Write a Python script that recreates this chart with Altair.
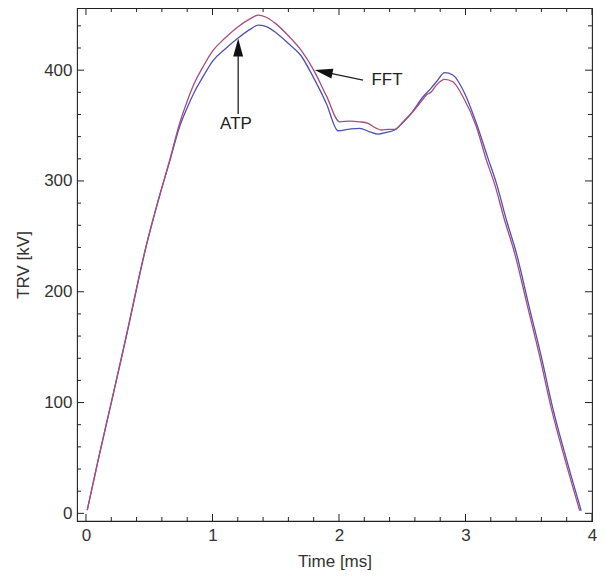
import altair as alt
import pandas as pd

# ---- data ----
t_atp = [0.01, 0.1, 0.2, 0.31, 0.48, 0.58, 0.66, 0.74, 0.8, 0.86, 0.93, 1.0, 1.1, 1.2, 1.3, 1.36,
         1.42, 1.5, 1.6, 1.7, 1.8, 1.9, 1.993, 2.085, 2.164, 2.243, 2.31, 2.375, 2.441, 2.507, 2.56,
         2.665, 2.73, 2.77, 2.836, 2.9, 2.994, 3.086, 3.178, 3.244, 3.323, 3.402, 3.5, 3.6, 3.69,
         3.8, 3.915]
v_atp = [3, 50, 100, 155, 243, 286, 317, 349, 366, 381, 395, 408, 419, 428.7, 437, 440.7,
         439.5, 434, 424, 413, 393, 370, 345.3, 346.8, 347.5, 344.4, 342.3, 343.9, 346, 353, 359.5,
         376, 384, 389.5, 397.7, 395.6, 379, 352, 320.4, 298, 265, 235, 188, 141, 95,
         48, 2.3]

t_fft = [0.01, 0.1, 0.2, 0.31, 0.48, 0.58, 0.66, 0.74, 0.8, 0.86, 0.93, 1.006, 1.1, 1.2, 1.3,
         1.361, 1.42, 1.5, 1.6, 1.7, 1.8, 1.9, 2.006, 2.085, 2.164, 2.23, 2.296, 2.336, 2.388, 2.441,
         2.507, 2.56, 2.638, 2.691, 2.73, 2.77, 2.836, 2.9, 2.98, 3.086, 3.165, 3.228, 3.308, 3.388,
         3.488, 3.588, 3.678, 3.788, 3.903]
v_fft = [3, 50, 100, 156, 243.5, 286, 318, 352, 372, 389, 404, 418, 429, 439, 446.5,
         449.7, 448, 442, 431, 418, 400, 377, 353.4, 354, 353.4, 352, 347.5, 346, 346.6, 346.6,
         353.4, 359.5, 370, 377.5, 380.5, 386.5, 391.7, 389.5, 376, 349, 318.9, 298, 265, 235,
         188, 141, 95, 48, 2.3]

x_major = [0, 1, 2, 3, 4]
x_minor = [0.2, 0.4, 0.6, 0.8, 1.2, 1.4, 1.6, 1.8, 2.2, 2.4, 2.6, 2.8, 3.2, 3.4, 3.6, 3.8]
y_major = [0, 100, 200, 300, 400]
y_minor = [v for v in range(20, 460, 20) if v % 100 != 0]

# annotations (data units)
ann_text = ["ATP", "FFT"]
ann_tx = [1.186, 2.380]
ann_ty = [351.6, 391.1]
arrow_x = [1.203, 2.190]
arrow_y = [360.4, 391.1]
arrow_x2 = [1.203, 1.878]
arrow_y2 = [420.4, 398.5]
head_x = [1.203, 1.878]
head_y = [420.4, 398.5]
head_angle = [0, 281.7]

W, H = 515, 513
XDOM = [-0.071, 4.0]
YDOM = [-6.9, 456.1]
FONT = "Liberation Sans"
TXT = "#333333"
BLUE = "#5050b0"
RED = "#a84c80"

xs = alt.Scale(domain=XDOM, nice=False, zero=False)
ys = alt.Scale(domain=YDOM, nice=False, zero=False)

df_atp = pd.DataFrame({"t": t_atp, "v": v_atp})
df_fft = pd.DataFrame({"t": t_fft, "v": v_fft})

xaxis = alt.Axis(values=x_major, ticks=False, domain=False, grid=False, labelPadding=6,
                 labelFontSize=17, labelFont=FONT, labelColor=TXT, title="Time [ms]",
                 titleFont=FONT, titleFontSize=17, titleFontWeight="normal", titleColor=TXT,
                 titleY=40, titleBaseline="middle", labelFlush=False)
yaxis = alt.Axis(values=y_major, ticks=False, domain=False, grid=False, labelPadding=5,
                 labelFontSize=17, labelFont=FONT, labelColor=TXT, title="TRV [kV]",
                 titleFont=FONT, titleFontSize=17, titleFontWeight="normal", titleColor=TXT,
                 titleX=-54, titleY=H / 2, titleAngle=-90, titleBaseline="middle",
                 titleAlign="center", labelFlush=False)


def X(f):
    return alt.X(f, scale=xs, axis=xaxis, title="Time [ms]")


def Y(f):
    return alt.Y(f, scale=ys, axis=yaxis, title="TRV [kV]")


line_atp = alt.Chart(df_atp).mark_line(color=BLUE, strokeWidth=1.3, interpolate="monotone").encode(
    x=X("t:Q"), y=Y("v:Q"))
line_fft = alt.Chart(df_fft).mark_line(color=RED, strokeWidth=1.3, interpolate="monotone").encode(
    x=X("t:Q"), y=Y("v:Q"))


def xticks(vals, ln):
    d = pd.DataFrame({"t": vals})
    bot = alt.Chart(d).mark_rule(color="#222", strokeWidth=1).encode(
        x=X("t:Q"), y=alt.value(H), y2=alt.value(H - ln))
    top = alt.Chart(d).mark_rule(color="#222", strokeWidth=1).encode(
        x=X("t:Q"), y=alt.value(0), y2=alt.value(ln))
    return [bot, top]


def yticks(vals, ln):
    d = pd.DataFrame({"v": vals})
    lef = alt.Chart(d).mark_rule(color="#222", strokeWidth=1).encode(
        y=Y("v:Q"), x=alt.value(0), x2=alt.value(ln))
    rig = alt.Chart(d).mark_rule(color="#222", strokeWidth=1).encode(
        y=Y("v:Q"), x=alt.value(W), x2=alt.value(W - ln))
    return [lef, rig]


ticks = xticks(x_major, 7) + xticks(x_minor, 4) + yticks(y_major, 7) + yticks(y_minor, 4)

ann_df = pd.DataFrame({"label": ann_text, "tx": ann_tx, "ty": ann_ty,
                       "ax": arrow_x, "ay": arrow_y, "ax2": arrow_x2, "ay2": arrow_y2,
                       "hx": head_x, "hy": head_y, "ang": head_angle})

arrows = alt.Chart(ann_df).mark_rule(color="#222", strokeWidth=1.3).encode(
    x=X("ax:Q"), y=Y("ay:Q"), x2="ax2:Q", y2="ay2:Q")
heads = alt.Chart(ann_df).mark_point(
    shape="M0,-1L0.55,1L-0.55,1Z", filled=True, color="#111", opacity=1, size=324,
    strokeWidth=0).encode(
    x=X("hx:Q"), y=Y("hy:Q"), angle=alt.Angle("ang:Q", scale=None))
labels = alt.Chart(ann_df).mark_text(font=FONT, fontSize=17, color="#222",
                                     baseline="middle", align="center").encode(
    x=X("tx:Q"), y=Y("ty:Q"), text="label:N")

chart = alt.layer(line_atp, line_fft, *ticks, arrows, heads, labels).properties(
    width=W, height=H,
    autosize=alt.AutoSizeParams(type="none"),
    padding={"left": 69, "top": 0, "right": 5, "bottom": 51},
).configure_view(stroke="#222", strokeWidth=1.1)

chart.save("out.html", embed_options={"renderer": "svg", "actions": False})
